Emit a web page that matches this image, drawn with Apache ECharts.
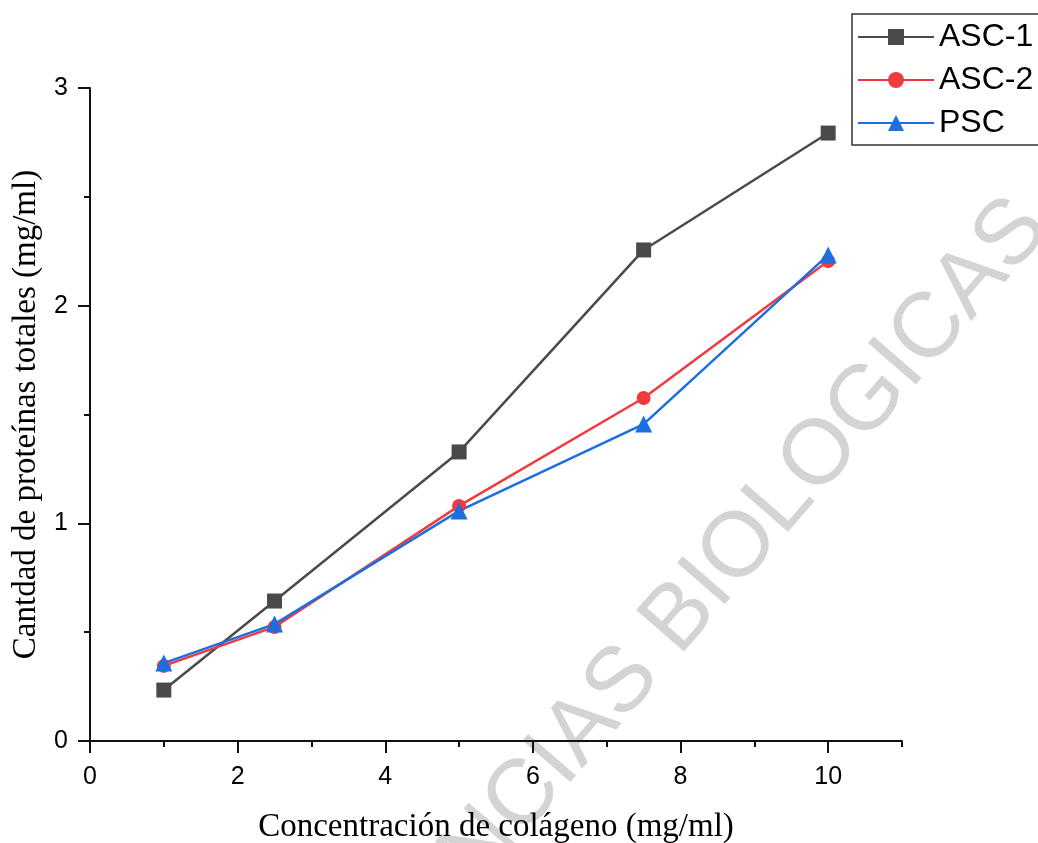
<!DOCTYPE html>
<html>
<head>
<meta charset="utf-8">
<script src="https://cdn.jsdelivr.net/npm/echarts@6/dist/echarts.min.js"></script>
<style>
  html, body { margin: 0; padding: 0; background: #fff; }
  #chart { width: 1038px; height: 843px; }
</style>
</head>
<body>
<div id="chart"></div>
<script>
// concentración de colágeno (mg/ml)
const concentrations = [1, 2.5, 5, 7.5, 10]
const asc1 = [0.234, 0.643, 1.328, 2.256, 2.793]
const asc2 = [0.345, 0.524, 1.08, 1.576, 2.205]
const psc = [0.358, 0.537, 1.057, 1.456, 2.233]

const xMajorTicks = [0, 2, 4, 6, 8, 10]
const xMinorTicks = [1, 3, 5, 7, 9, 11]
const yMajorTicks = [0, 1, 2, 3]
const yMinorTicks = [0.5, 1.5, 2.5]

const sans = '"Liberation Sans", Arial, sans-serif'
const serif = '"Liberation Serif", "Times New Roman", serif'
const axisColor = '#111'

const chart = echarts.init(document.getElementById('chart'))

const pairs = ys => concentrations.map((x, i) => [x, ys[i]])

const option = {
  backgroundColor: '#fff',
  animation: false,
  // outerBoundsMode none: otherwise v6 squeezes the grid to fit the axis names
  grid: { left: 90, right: 136, top: 88, bottom: 102, containLabel: false, outerBoundsMode: 'none' },
  legend: {
    left: 857,
    top: 21,
    orient: 'vertical',
    itemWidth: 76,
    itemHeight: 20,
    itemGap: 11,
    padding: 0,
    textStyle: { fontFamily: sans, fontSize: 32, color: '#000' },
    data: ['ASC-1', 'ASC-2', 'PSC'],
  },
  xAxis: [
    {
      type: 'value',
      min: 0,
      max: 11,
      name: 'Concentración de colágeno (mg/ml)',
      nameLocation: 'middle',
      nameGap: 70,
      nameTextStyle: { fontFamily: serif, fontSize: 33, color: '#000' },
      axisLine: { show: true, lineStyle: { color: axisColor, width: 2 } },
      axisTick: { show: true, inside: false, length: 12, lineStyle: { color: axisColor, width: 2 }, customValues: xMajorTicks },
      axisLabel: { fontFamily: sans, fontSize: 25, color: '#000', margin: 24, customValues: xMajorTicks },
      splitLine: { show: false },
    },
    {
      // minor ticks only
      type: 'value',
      min: 0,
      max: 11,
      position: 'bottom',
      axisLine: { show: false },
      axisTick: { show: true, length: 6, lineStyle: { color: axisColor, width: 2 }, customValues: xMinorTicks },
      axisLabel: { show: false },
      splitLine: { show: false },
    },
  ],
  yAxis: [
    {
      type: 'value',
      min: 0,
      max: 3,
      name: 'Cantdad de proteínas totales (mg/ml)',
      nameLocation: 'middle',
      nameGap: 31,
      nameTextStyle: { fontFamily: serif, fontSize: 33, color: '#000' },
      axisLine: { show: true, lineStyle: { color: axisColor, width: 2 } },
      axisTick: { show: true, length: 12, lineStyle: { color: axisColor, width: 2 }, customValues: yMajorTicks },
      axisLabel: { fontFamily: sans, fontSize: 25, color: '#000', margin: 22, customValues: yMajorTicks },
      splitLine: { show: false },
    },
    {
      type: 'value',
      min: 0,
      max: 3,
      position: 'left',
      axisLine: { show: false },
      axisTick: { show: true, length: 6, lineStyle: { color: axisColor, width: 2 }, customValues: yMinorTicks },
      axisLabel: { show: false },
      splitLine: { show: false },
    },
  ],
  graphic: [
    {
      // watermark
      type: 'text',
      z: -10,
      silent: true,
      x: 695,
      y: 600,
      rotation: (49 * Math.PI) / 180,
      style: {
        text: 'CIENCIAS BIOLOGICAS',
        fontFamily: sans,
        fontSize: 92,
        fill: '#d4d4d4',
        align: 'center',
        verticalAlign: 'middle',
      },
    },
    {
      // legend frame, runs off the right edge like the original
      type: 'rect',
      z: 100,
      silent: true,
      shape: { x: 852, y: 14, width: 200, height: 131 },
      style: { fill: 'none', stroke: '#333', lineWidth: 1.5 },
    },
  ],
  series: [
    {
      name: 'ASC-1',
      type: 'line',
      symbol: 'rect',
      symbolSize: 15,
      itemStyle: { color: '#4a4a4a' },
      lineStyle: { color: '#4a4a4a', width: 2.5 },
      data: pairs(asc1),
    },
    {
      name: 'ASC-2',
      type: 'line',
      symbol: 'circle',
      symbolSize: 14,
      itemStyle: { color: '#ef3a3f' },
      lineStyle: { color: '#ef3a3f', width: 2.5 },
      data: pairs(asc2),
    },
    {
      name: 'PSC',
      type: 'line',
      symbol: 'triangle',
      symbolSize: 17,
      itemStyle: { color: '#1b6fe0' },
      lineStyle: { color: '#1b6fe0', width: 2.5 },
      data: pairs(psc),
    },
  ],
}

chart.setOption(option)
</script>
</body>
</html>
